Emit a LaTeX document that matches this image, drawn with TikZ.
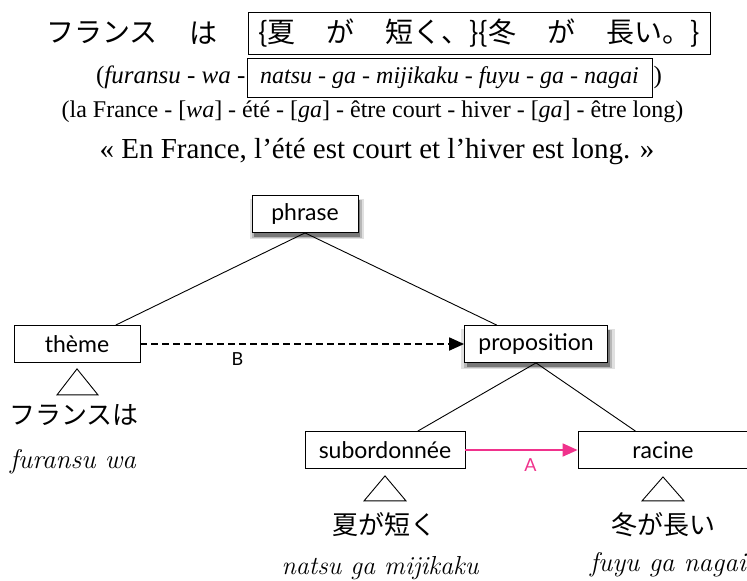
\documentclass[tikz,border=0pt]{standalone}
\usepackage{fontspec}
\setmainfont{Liberation Serif}
\newfontfamily\jpfont{Noto Sans CJK JP}
\newfontfamily\catfont{Lato}
\newfontfamily\romafont{Latin Modern Roman}
\usetikzlibrary{shapes.geometric, arrows.meta, positioning, shadows}
\definecolor{linkpink}{RGB}{240,50,140}
\tikzstyle{cat} = [rectangle, minimum height=37pt, inner sep=0pt, draw=black, fill=white, line width=0.8pt, font=\catfont\fontsize{23}{27}\selectfont]
\tikzstyle{catshadow} = [cat,
    general shadow={fill=black, opacity=0.12, shadow xshift=2pt, shadow yshift=-5pt, shadow scale=1.08},
    general shadow={fill=black, opacity=0.18, shadow xshift=2pt, shadow yshift=-5pt, shadow scale=1.04},
    general shadow={fill=black, opacity=0.35, shadow xshift=2pt, shadow yshift=-4pt}]
\tikzstyle{branch} = [line width=0.9pt]
\tikzstyle{roof} = [line width=0.9pt]
\tikzstyle{jpword} = [inner sep=0pt, font=\jpfont\fontsize{26}{30}\selectfont]
\tikzstyle{roma} = [inner sep=0pt, font=\romafont\fontsize{27}{30}\selectfont\itshape]
\tikzstyle{arrow} = [line width=1.8pt, -{Triangle[length=15pt,width=13pt]}]
\tikzstyle{linklabel} = [font=\catfont\fontsize{18}{20}\selectfont]

\begin{document}
\begin{tikzpicture}[x=1pt, y=-1pt]
    \useasboundingbox (0,0) rectangle (747,581);

    % example sentence and glosses
    \node (furansu) [inner sep=0pt, font=\jpfont\fontsize{28}{32}\selectfont] at (102,33) {フランス};
    \node (wa) [inner sep=0pt, font=\jpfont\fontsize{28}{32}\selectfont] at (203,33) {は};
    \node (jpbox) [draw, line width=0.8pt, minimum width=462pt, minimum height=42pt, inner sep=0pt, font=\jpfont\fontsize{28}{32}\selectfont] at (479,33)
        {\{夏\hspace{31pt}が\hspace{31pt}短く、\}\{冬\hspace{31pt}が\hspace{31pt}長い。\}};
    \node (romabox) [draw, line width=0.8pt, minimum width=405pt, minimum height=39pt, inner sep=0pt, font=\fontsize{24}{28}\selectfont\itshape] at (449.5,77.5)
        {natsu - ga - mijikaku - fuyu - ga - nagai};
    \node (romaleft) [left=1pt of romabox, inner sep=0pt, font=\fontsize{25}{29}\selectfont] {(\textit{furansu} - \textit{wa} -};
    \node (romaright) [right=1pt of romabox, inner sep=0pt, font=\fontsize{25}{29}\selectfont] {)};
    \node (gloss) [inner sep=0pt, font=\fontsize{24}{28}\selectfont] at (372.5,112)
        {(la France - [\textit{wa}] - été - [\textit{ga}] - être court - hiver - [\textit{ga}] - être long)};
    \node (transl) [inner sep=0pt, font=\fontsize{29}{33}\selectfont] at (377,152)
        {« En France, l’été est court et l’hiver est long. »};

    % tree
    \node (phrase) [catshadow, minimum width=106pt] at (305,214) {phrase};
    \node (theme) [cat, minimum width=126pt] at (77,344) {thème};
    \node (prop) [catshadow, minimum width=143pt] at (536,344) {proposition};
    \node (sub) [cat, minimum width=160pt] at (385,450) {subordonnée};
    \node (racine) [cat, minimum width=170pt] at (663,450) {racine};

    \draw [branch] (phrase.south) -- (theme);
    \draw [branch] (phrase.south) -- (prop);
    \draw [branch] (prop.south) -- (sub);
    \draw [branch] (prop.south) -- (racine);

    \draw [arrow, dash pattern=on 7pt off 4pt] (theme) -- node [linklabel, pos=0.3, below=4pt] {B} (prop);
    \draw [arrow, linkpink] (sub) -- node [linklabel, text=linkpink, pos=0.58, below=4pt] {A} (racine);

    % roofs over the leaves
    \draw [roof] ([yshift=-6pt]theme.south) -- ++(-20,26) -- ++(41,0) -- cycle;
    \draw [roof] ([yshift=-7pt]sub.south) -- ++(-21,25) -- ++(42,0) -- cycle;
    \draw [roof] ([yshift=-8pt]racine.south) -- ++(-21,24) -- ++(42,0) -- cycle;

    \node (themejp) [jpword] at (74,415) {フランスは};
    \node (subjp) [jpword] at (384,525) {夏が短く};
    \node (racinejp) [jpword] at (663,525) {冬が長い};

    \node (themero) [roma] at (73,462) {furansu wa};
    \node (subro) [roma, font=\romafont\fontsize{26}{30}\selectfont\itshape] at (380,568) {natsu ga mijikaku};
    \node (racinero) [roma] at (668,565) {fuyu ga nagai};
\end{tikzpicture}
\end{document}
